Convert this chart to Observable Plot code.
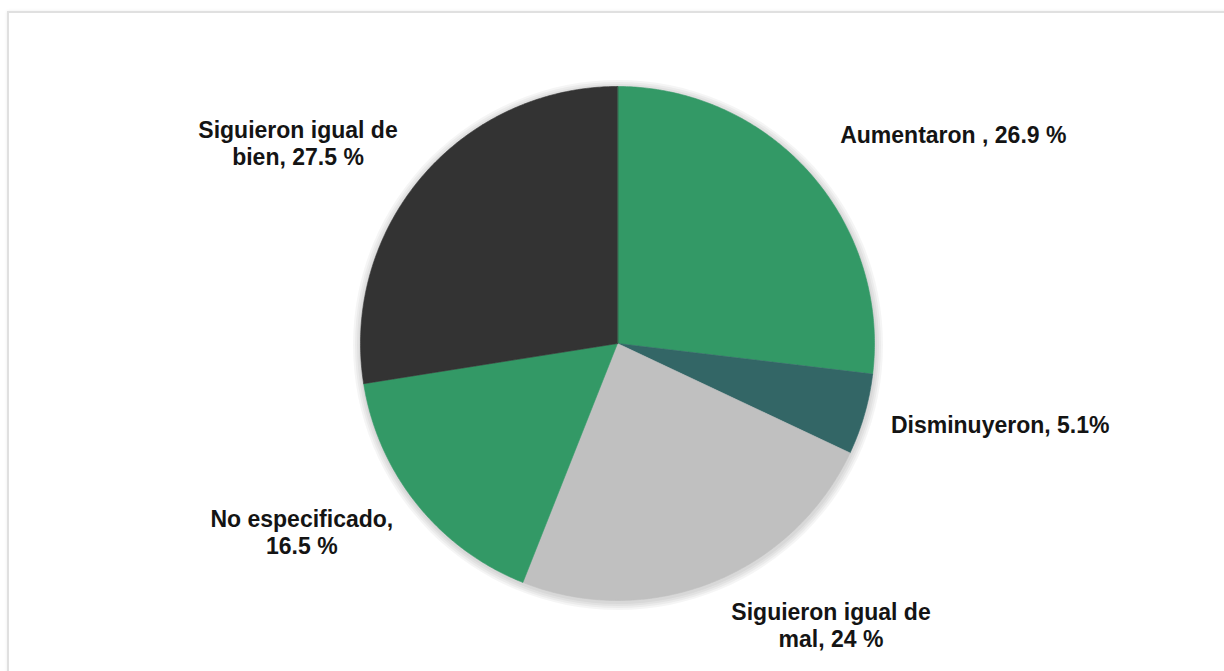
<!DOCTYPE html>
<html>
<head>
<meta charset="utf-8">
<script src="https://cdn.jsdelivr.net/npm/d3@7"></script>
<script src="https://cdn.jsdelivr.net/npm/@observablehq/plot@0.6"></script>
<style>
  html, body { margin: 0; padding: 0; background: #fff; overflow: hidden; }
  #wrap { position: relative; width: 1224px; height: 671px; overflow: hidden; }
  #frame { position: absolute; left: 7px; top: 11px; width: 1240px; height: 700px;
           border-top: 2px solid #e0e0e0; border-left: 2px solid #e0e0e0;
           box-shadow: 0 0 3px rgba(0,0,0,0.08); box-sizing: border-box; }
  #chart { position: absolute; left: 0; top: 0; }
</style>
</head>
<body>
<div id="wrap"><div id="frame"></div><div id="chart"></div></div>
<script>
// ---- data ----
const categories = ["Aumentaron", "Disminuyeron", "Siguieron igual de mal", "No especificado", "Siguieron igual de bien"];
const values = [26.9, 5.1, 24, 16.5, 27.5];
const labels = ["Aumentaron , 26.9 %", "Disminuyeron, 5.1%", "Siguieron igual de\nmal, 24 %", "No especificado,\n16.5 %", "Siguieron igual de\nbien, 27.5 %"];

// ---- style / layout ----
const colors = ["#339966", "#336666", "#c0c0c0", "#339966", "#333333"];
const labelAnchor = ["start", "start", "middle", "middle", "middle"];
const labelDx = [-8, -23, 100, -75, -85];
const labelDy = [4, 4, 17, 18, 22];
const cx = 617, cy = 343, R = 257, labelR = 1.2;

const rows = categories.map((c, i) => ({name: c, value: values[i], label: labels[i], i}));
const arcs = d3.pie().sort(null).value(d => d.value)(rows);

// polygon outline of each slice in unit-circle space, from the data angles
const slicePts = [];
arcs.forEach(a => {
  const n = Math.max(2, Math.ceil((a.endAngle - a.startAngle) / (Math.PI / 360)));
  slicePts.push({name: a.data.name, x: 0, y: 0});
  for (let k = 0; k <= n; k++) {
    const t = a.startAngle + (a.endAngle - a.startAngle) * k / n;
    slicePts.push({name: a.data.name, x: Math.sin(t), y: Math.cos(t)});
  }
});

const labelPts = arcs.map(a => {
  const m = (a.startAngle + a.endAngle) / 2;
  return {label: a.data.label, i: a.data.i, x: labelR * Math.sin(m), y: labelR * Math.cos(m)};
});

const center = [{x: 0, y: 0}];
const halo = [265, 263, 261, 259];

const marks = [];
halo.forEach(r => marks.push(Plot.dot(center, {x: "x", y: "y", r, dy: 1.5, dx: 0.5, fill: "#000", fillOpacity: 0.04, stroke: "none"})));
marks.push(Plot.line(slicePts, {x: "x", y: "y", z: "name", fill: "name", stroke: "name", strokeWidth: 0.6, curve: "linear-closed"}));
labelPts.forEach(p => marks.push(Plot.text([p], {
  x: "x", y: "y", text: "label",
  textAnchor: labelAnchor[p.i], lineAnchor: "bottom",
  dx: labelDx[p.i], dy: labelDy[p.i],
  fontSize: 23, fontWeight: "bold", lineHeight: 1.2, fill: "#141414"
})));

const chart = Plot.plot({
  width: 1224, height: 671,
  margin: 0,
  style: {background: "transparent", fontFamily: "'Liberation Sans', Arial, sans-serif"},
  x: {domain: [-1, 1], range: [cx - R, cx + R], axis: null},
  y: {domain: [-1, 1], range: [cy + R, cy - R], axis: null},
  color: {domain: categories, range: colors},
  marks
});
document.getElementById("chart").appendChild(chart);
</script>
</body>
</html>
